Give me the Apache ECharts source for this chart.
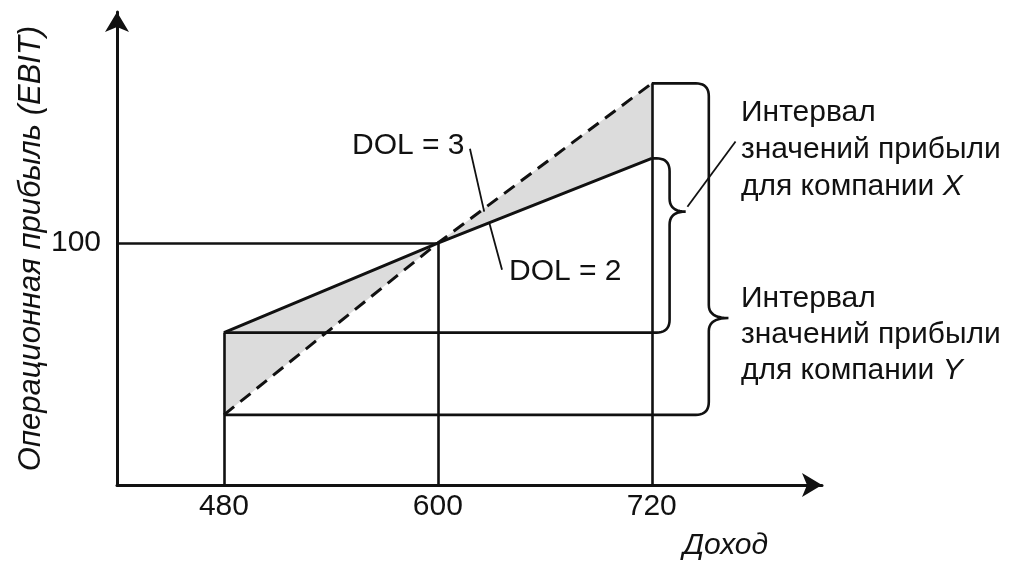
<!DOCTYPE html>
<html>
<head>
<meta charset="utf-8">
<script src="https://cdn.jsdelivr.net/npm/echarts@6/dist/echarts.min.js"></script>
<style>
  html, body { margin: 0; padding: 0; background: #fff; }
  #chart { width: 1015px; height: 562px; }
</style>
</head>
<body>
<div id="chart"></div>
<script>
// доход (ось X) и операционная прибыль (ось Y)
var xTicks = [480, 600, 720]
var yTicks = [100]
var companyX = [[480, 63], [600, 100], [720, 135]]   // DOL = 2, сплошная
var companyY = [[480, 29], [600, 100], [720, 166]]   // DOL = 3, пунктир
// серые треугольники между линиями
var shaded = [
  [480, 63, 600, 100, 480, 29],
  [600, 100, 720, 166, 720, 135]
]
// вспомогательные линии
var guides = [
  [[420, 100], [600, 100]],
  [[600, 0], [600, 100]],
  [[480, 0], [480, 63]],
  [[720, 0], [720, 166]]
]
// скобки: x начала, y верха, x скобки, x острия, y острия, y низа, x конца низа
var braces = [
  [720, 135, 730, 739, 113, 63, 480],
  [720, 166, 752, 763, 69, 29, 480]
]
// выноски к подписям
var leaders = [
  [[618, 139], [626, 113]],
  [[629, 108], [636, 89]],
  [[740, 115], [767, 142]]
]

var FONT = "'Liberation Sans', Arial, sans-serif"
var INK = '#111'

function quad(p0, c, p1, out) {
  for (var i = 1; i <= 10; i++) {
    var t = i / 10, u = 1 - t
    out.push([u * u * p0[0] + 2 * u * t * c[0] + t * t * p1[0],
              u * u * p0[1] + 2 * u * t * c[1] + t * t * p1[1]])
  }
}

function renderBrace(params, api) {
  var a = api.coord([api.value(0), api.value(1)])
  var xv = api.coord([api.value(2), 0])[0]
  var tip = api.coord([api.value(3), api.value(4)])
  var b = api.coord([api.value(6), api.value(5)])
  var r = 13
  var pts = [a, [xv - r, a[1]]]
  quad([xv - r, a[1]], [xv, a[1]], [xv, a[1] + r], pts)
  pts.push([xv, tip[1] - r])
  quad([xv, tip[1] - r], [xv, tip[1]], tip, pts)
  quad(tip, [xv, tip[1]], [xv, tip[1] + r], pts)
  pts.push([xv, b[1] - r])
  quad([xv, b[1] - r], [xv, b[1]], [xv - r, b[1]], pts)
  pts.push(b)
  return {
    type: 'polyline',
    shape: { points: pts },
    style: { stroke: INK, lineWidth: 2.6, fill: null }
  }
}

function renderShade(params, api) {
  var pts = [0, 2, 4].map(function(i) {
    return api.coord([api.value(i), api.value(i + 1)])
  })
  return { type: 'polygon', shape: { points: pts }, style: { fill: '#dcdcdc' } }
}

var chart = echarts.init(document.getElementById('chart'))
chart.setOption({
  animation: false,
  textStyle: { fontFamily: FONT },
  grid: { left: 117, right: 193, top: 12, bottom: 77, outerBoundsMode: 'none' },
  xAxis: {
    type: 'value',
    min: 420,
    max: 815.5,
    splitLine: { show: false },
    axisTick: { show: false },
    axisLine: {
      show: true,
      onZero: false,
      symbol: ['none', 'arrow'],
      symbolSize: [18, 20],
      lineStyle: { color: INK, width: 3 }
    },
    axisLabel: {
      customValues: xTicks,
      color: INK,
      fontSize: 30,
      fontFamily: FONT,
      margin: 7
    }
  },
  yAxis: {
    type: 'value',
    min: 0,
    max: 195.5,
    name: 'Операционная прибыль (EBIT)',
    nameLocation: 'middle',
    nameRotate: 90,
    nameGap: 70,
    nameMoveOverlap: false,
    nameTextStyle: { color: INK, fontSize: 31, fontStyle: 'italic', fontFamily: FONT },
    splitLine: { show: false },
    axisTick: { show: false },
    axisLine: {
      show: true,
      onZero: false,
      symbol: ['none', 'arrow'],
      symbolSize: [18, 20],
      lineStyle: { color: INK, width: 3 }
    },
    axisLabel: {
      customValues: yTicks,
      color: INK,
      fontSize: 30,
      fontFamily: FONT,
      margin: 16
    }
  },
  series: [
    {
      type: 'custom',
      renderItem: renderShade,
      data: shaded,
      encode: { x: [0, 2, 4], y: [1, 3, 5] },
      silent: true,
      z: 1
    },
    {
      type: 'lines',
      coordinateSystem: 'cartesian2d',
      data: guides.concat(leaders).map(function(c, i) {
        return { coords: c, lineStyle: { width: i < guides.length ? 2.6 : 1.8 } }
      }),
      lineStyle: { color: INK, width: 2.6, opacity: 1, curveness: 0 },
      silent: true,
      z: 2
    },
    {
      type: 'custom',
      renderItem: renderBrace,
      data: braces,
      encode: { x: [0, 2, 3, 6], y: [1, 4, 5] },
      silent: true,
      z: 3
    },
    {
      name: 'DOL = 3',
      type: 'line',
      data: companyY,
      symbol: 'none',
      lineStyle: { color: INK, width: 3, type: [13, 8] },
      z: 4
    },
    {
      name: 'DOL = 2',
      type: 'line',
      data: companyX,
      symbol: 'none',
      lineStyle: { color: INK, width: 3 },
      z: 5
    }
  ],
  graphic: [
    { type: 'text', left: 352, top: 131, style: { text: 'DOL = 3', fill: INK, font: '30px ' + FONT } },
    { type: 'text', left: 509, top: 257, style: { text: 'DOL = 2', fill: INK, font: '30px ' + FONT } },
    { type: 'text', left: 683, top: 531, style: { text: 'Доход', fill: INK, font: 'italic 30px ' + FONT } },
    {
      type: 'text', left: 741, top: 94,
      style: {
        text: 'Интервал\nзначений прибыли\nдля компании {i|X}',
        fill: INK, font: '30px ' + FONT, lineHeight: 37,
        rich: { i: { fontStyle: 'italic', fontSize: 30, fontFamily: FONT, fill: INK } }
      }
    },
    {
      type: 'text', left: 741, top: 281,
      style: {
        text: 'Интервал\nзначений прибыли\nдля компании {i|Y}',
        fill: INK, font: '30px ' + FONT, lineHeight: 36,
        rich: { i: { fontStyle: 'italic', fontSize: 30, fontFamily: FONT, fill: INK } }
      }
    }
  ]
})
</script>
</body>
</html>
